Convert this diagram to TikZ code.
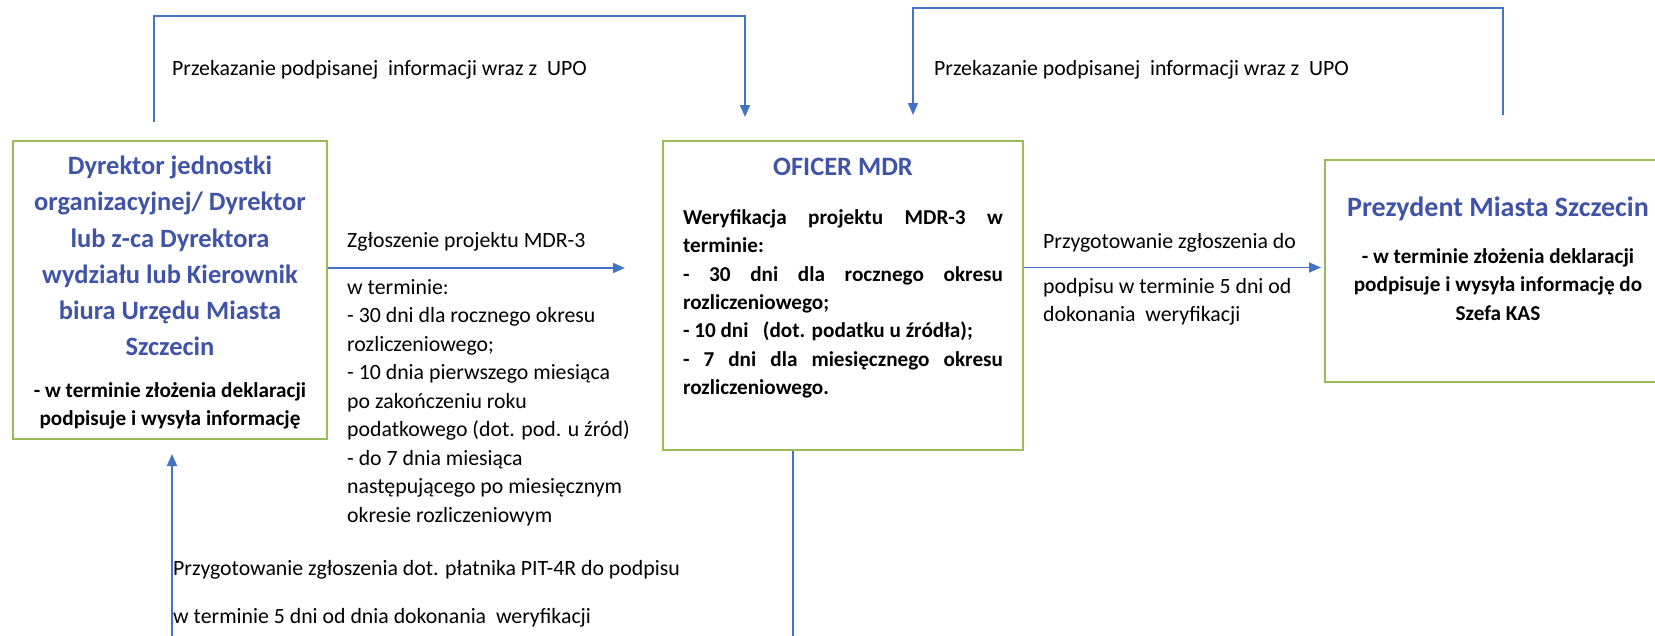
\documentclass[tikz,border=0pt]{standalone}
\usepackage{fontspec}
\setmainfont{Carlito}
\usetikzlibrary{arrows.meta,positioning}
\definecolor{ramka}{RGB}{155,187,89}
\definecolor{strzalka}{RGB}{68,114,196}
\definecolor{tytul}{RGB}{63,84,166}
\begin{document}
\begin{tikzpicture}[x=1pt,y=-1pt,
  box/.style={draw=ramka,line width=2pt,inner sep=0pt,anchor=north west},
  title/.style={inner sep=0pt,align=center,text=tytul,font=\bfseries\fontsize{26.5}{36.2}\selectfont},
  body/.style={inner sep=0pt,align=center,font=\bfseries\fontsize{21.2}{28.3}\selectfont},
  lab/.style={inner sep=0pt,align=left,font=\fontsize{21.8}{28.5}\selectfont},
  conn/.style={draw=strzalka,line width=1.8pt,-{Triangle[length=12pt,width=10pt]}}]
  \useasboundingbox (0,0) rectangle (1655,635);

  \node[box,minimum width=314pt,minimum height=298pt] (dyr)  at (12,140)   {};
  \node[box,minimum width=360pt,minimum height=309pt] (ofi)  at (662,140)  {};
  \node[box,minimum width=346pt,minimum height=222pt] (prez) at (1324,159) {};

  \node[title,below=16pt of dyr.north] (dyrT) {Dyrektor jednostki\\organizacyjnej/ Dyrektor\\lub z-ca Dyrektora\\wydziału lub Kierownik\\biura Urzędu Miasta\\Szczecin};
  \node[body,below=26pt of dyrT] (dyrB) {- w terminie złożenia deklaracji\\podpisuje i wysyła informację};

  \node[title,below=18pt of ofi.north] (ofiT) {OFICER MDR};
  \node[body,text width=320pt,align=justify,below=33.5pt of ofiT] (ofiB) {Weryfikacja projektu MDR-3 w\linebreak terminie:\\- 30 dni dla rocznego okresu\linebreak rozliczeniowego;\\- 10 dni \ \ (dot. podatku u źródła);\\- 7 dni dla miesięcznego okresu\linebreak rozliczeniowego.};

  \node[title,font=\bfseries\fontsize{28}{36}\selectfont,below=38pt of prez.north] (prezT) {Prezydent Miasta Szczecin};
  \node[body,below=27pt of prezT] (prezB) {- w terminie złożenia deklaracji\\podpisuje i wysyła informację do\\Szefa KAS};

  \node[lab,anchor=base west] (upoL) at (172,75) {Przekazanie podpisanej\ \ informacji wraz z\ \ UPO};
  \node[lab,anchor=base west] (upoR) at (934,75) {Przekazanie podpisanej\ \ informacji wraz z\ \ UPO};
  \node[lab,anchor=base west] (zgl) at (347,247) {Zgłoszenie projektu MDR-3};
  \node[lab,anchor=north west] (zglB) at (347,279) {w terminie:\\- 30 dni dla rocznego okresu\\rozliczeniowego;\\- 10 dnia pierwszego miesiąca\\po zakończeniu roku\\podatkowego (dot. pod. u źród)\\- do 7 dnia miesiąca\\następującego po miesięcznym\\okresie rozliczeniowym};
  \node[lab,anchor=base west] (przyg) at (1043,248) {Przygotowanie zgłoszenia do};
  \node[lab,anchor=north west] (przygB) at (1043,278) {podpisu w terminie 5 dni od\\dokonania\ \ weryfikacji};
  \node[lab,anchor=base west] (pit) at (173,575) {Przygotowanie zgłoszenia dot. płatnika PIT-4R do podpisu};
  \node[lab,anchor=base west] (pitB) at (173,623) {w terminie 5 dni od dnia dokonania\ \ weryfikacji};

  \draw[conn] ([xshift=-16pt,yshift=18pt]dyr.north) -- ++(0,-106) -| ([xshift=-98pt,yshift=23pt]ofi.north);
  \draw[conn] ([xshift=5pt,yshift=44pt]prez.north) -- ++(0,-107) -| ([xshift=70pt,yshift=25pt]ofi.north);
  \draw[conn,shorten >=37pt] ([yshift=22pt]dyr.east) -- ([yshift=22pt]dyr.east -| ofi.west);
  \draw[conn,shorten >=3pt] ([yshift=28pt]ofi.east) -- ([yshift=28pt]ofi.east -| prez.west);
  \draw[conn] ([xshift=-50pt]ofi.south) -- ++(0,200) -| ([xshift=2pt,yshift=-14pt]dyr.south);
\end{tikzpicture}
\end{document}
